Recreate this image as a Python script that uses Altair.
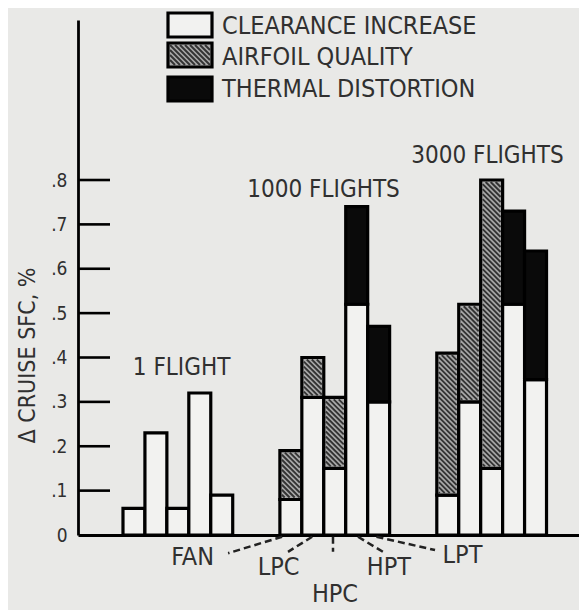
import altair as alt
import pandas as pd

# ---------------- data ----------------
GROUPS = ["1 FLIGHT", "1000 FLIGHTS", "3000 FLIGHTS"]
COMPONENTS = ["FAN", "LPC", "HPC", "HPT", "LPT"]
CAUSES = ["CLEARANCE INCREASE", "AIRFOIL QUALITY", "THERMAL DISTORTION"]

CLEARANCE = [[0.06, 0.23, 0.06, 0.32, 0.09],
             [0.08, 0.31, 0.15, 0.52, 0.30],
             [0.09, 0.30, 0.15, 0.52, 0.35]]
AIRFOIL = [[0.0, 0.0, 0.0, 0.0, 0.0],
           [0.11, 0.09, 0.16, 0.0, 0.0],
           [0.32, 0.22, 0.65, 0.0, 0.0]]
THERMAL = [[0.0, 0.0, 0.0, 0.0, 0.0],
           [0.0, 0.0, 0.0, 0.22, 0.17],
           [0.0, 0.0, 0.0, 0.21, 0.29]]

Y_TICKS = [0.1, 0.2, 0.3, 0.4, 0.5, 0.6, 0.7, 0.8]
Y_LABELS = [0, 0.1, 0.2, 0.3, 0.4, 0.5, 0.6, 0.7, 0.8]

# ---------------- layout / style constants ----------------
GROUP_OFFSET = 2.05
GROUP_STEP = 7.15
X_MAX = 22.83
Y_MAX = 1.1606
W, H = 501, 515
PX_PER_SLOT = W / X_MAX
PX_PER_UNIT = H / Y_MAX

FONT = "Liberation Sans Narrow, DejaVu Sans Condensed, Liberation Sans, sans-serif"
INK = "#303030"
BG = "#e9e9e7"
FILLS = ["#f2f2f0", "#aaaaaa", "#0a0a0a"]
HATCH_PITCH = 5.0


def px2slot(px):
    return px / PX_PER_SLOT


def py2val(py):
    return Y_MAX - py / PX_PER_UNIT


def hatch(xa, xb, yt, yb, inset=2.0):
    """Diagonal '\\' hatch lines inside a pixel rectangle (plot-area pixels)."""
    xa, xb, yt, yb = xa + inset, xb - inset, yt + inset, yb - inset
    segs = []
    c = yt - xb
    while c < yb - xa:
        xs = max(xa, yt - c)
        xe = min(xb, yb - c)
        if xe - xs > 0.3:
            segs.append({"x": px2slot(xs), "y": py2val(xs + c),
                         "x2": px2slot(xe), "y2": py2val(xe + c)})
        c += HATCH_PITCH
    return segs


# ---------------- build tables ----------------
rows = []
for g, grp in enumerate(GROUPS):
    for i, comp in enumerate(COMPONENTS):
        x0 = GROUP_OFFSET + g * GROUP_STEP + i
        base = 0.0
        for k, series in enumerate([CLEARANCE, AIRFOIL, THERMAL]):
            v = series[g][i]
            if v > 0:
                rows.append({"group": grp, "comp": comp, "slot": x0, "slot2": x0 + 1,
                             "cause": CAUSES[k], "y0": base, "y1": base + v})
                base += v
bars_df = pd.DataFrame(rows)

hatch_rows = []
for _, r in bars_df[bars_df["cause"] == CAUSES[1]].iterrows():
    hatch_rows += hatch(r["slot"] * PX_PER_SLOT, r["slot2"] * PX_PER_SLOT,
                        (Y_MAX - r["y1"]) * PX_PER_UNIT, (Y_MAX - r["y0"]) * PX_PER_UNIT)

# legend (drawn by hand so the hatch can be shown), in plot-area pixels
LEG_X0, LEG_X1 = 90, 134
LEG_TOPS = [-7, 23, 57]
LEG_H = 24
LEG_TEXT_X = 144
LEG_TEXT_Y = [6, 37, 69]
legend_df = pd.DataFrame({
    "cause": CAUSES,
    "x": [px2slot(LEG_X0)] * 3, "x2": [px2slot(LEG_X1)] * 3,
    "y": [py2val(t) for t in LEG_TOPS], "y2": [py2val(t + LEG_H) for t in LEG_TOPS],
    "tx": [px2slot(LEG_TEXT_X)] * 3, "ty": [py2val(t) for t in LEG_TEXT_Y],
})
hatch_rows += hatch(LEG_X0, LEG_X1, LEG_TOPS[1], LEG_TOPS[1] + LEG_H)
hatch_df = pd.DataFrame(hatch_rows)

# group annotations (text centre in slot units, baseline in data units)
group_lbl = pd.DataFrame({
    "label": GROUPS,
    "x": [4.72, 11.19, 18.66],
    "y": [0.36, 0.762, 0.838],
})

# component labels below the 1000-flight group, with dashed leaders
comp_lbl = pd.DataFrame({
    "label": COMPONENTS,
    "x": [5.22, 9.14, 11.71, 14.17, 17.52],
    "y": [-0.068, -0.090, -0.152, -0.090, -0.063],
})
leaders = pd.DataFrame({
    "x": [9.30, 10.67, 11.62, 12.76, 13.60],
    "y": [-0.004, -0.004, -0.004, -0.004, -0.004],
    "x2": [6.84, 9.57, 11.62, 13.90, 16.27],
    "y2": [-0.041, -0.038, -0.038, -0.038, -0.034],
})

ticks_df = pd.DataFrame({"v": Y_TICKS})

# ---------------- chart ----------------
xscale = alt.Scale(domain=[0, X_MAX], nice=False, zero=False)
yscale = alt.Scale(domain=[0, Y_MAX], nice=False)
fill_scale = alt.Scale(domain=CAUSES, range=FILLS)

label_expr = "datum.value == 0 ? '0' : replace(format(datum.value, '.1f'), '0.', '.')"

bars = alt.Chart(bars_df).mark_bar(stroke="black", strokeWidth=3.2, opacity=1).encode(
    x=alt.X("slot:Q", scale=xscale,
            axis=alt.Axis(labels=False, ticks=False, title=None, grid=False,
                          domainColor="black", domainWidth=2.8)),
    x2="slot2:Q",
    y=alt.Y("y0:Q", scale=yscale,
            axis=alt.Axis(values=Y_LABELS, labelExpr=label_expr, ticks=False, grid=False,
                          domainColor="black", domainWidth=2.8,
                          labelFont=FONT, labelFontSize=19, labelColor=INK, labelPadding=11,
                          title="Δ CRUISE SFC, %", titleFont=FONT, titleFontSize=23,
                          titleFontWeight="normal", titleColor=INK, titleAngle=270,
                          titleBaseline="middle", titleAlign="center",
                          titleX=-51, titleY=335)),
    y2="y1:Q",
    fill=alt.Fill("cause:N", scale=fill_scale, legend=None),
)

legend_boxes = alt.Chart(legend_df).mark_rect(stroke="black", strokeWidth=3.2, opacity=1).encode(
    x=alt.X("x:Q", scale=xscale), x2="x2:Q",
    y=alt.Y("y:Q", scale=yscale), y2="y2:Q",
    fill=alt.Fill("cause:N", scale=fill_scale, legend=None),
)

legend_text = alt.Chart(legend_df).mark_text(
    font=FONT, fontSize=25, color=INK, align="left", baseline="middle"
).encode(x=alt.X("tx:Q", scale=xscale), y=alt.Y("ty:Q", scale=yscale), text="cause:N")

hatch_lines = alt.Chart(hatch_df).mark_rule(color="#333333", strokeWidth=1.9).encode(
    x=alt.X("x:Q", scale=xscale), y=alt.Y("y:Q", scale=yscale), x2="x2:Q", y2="y2:Q"
)

tick_rules = alt.Chart(ticks_df).mark_rule(color="black", strokeWidth=2.6).encode(
    y=alt.Y("v:Q", scale=yscale), x=alt.value(0), x2=alt.value(32)
)

grp_text = alt.Chart(group_lbl).mark_text(
    font=FONT, fontSize=24, color=INK, align="center", baseline="alphabetic"
).encode(x=alt.X("x:Q", scale=xscale), y=alt.Y("y:Q", scale=yscale), text="label:N")

comp_text = alt.Chart(comp_lbl).mark_text(
    font=FONT, fontSize=25, color=INK, align="center", baseline="alphabetic"
).encode(x=alt.X("x:Q", scale=xscale), y=alt.Y("y:Q", scale=yscale), text="label:N")

lead = alt.Chart(leaders).mark_rule(color="#222222", strokeWidth=2.5, strokeDash=[7, 4]).encode(
    x=alt.X("x:Q", scale=xscale), y=alt.Y("y:Q", scale=yscale), x2="x2:Q", y2="y2:Q"
)

chart = alt.layer(bars, legend_boxes, hatch_lines, tick_rules, lead,
                  legend_text, grp_text, comp_text).properties(
    width=W, height=H,
    autosize="none",
    padding={"left": 70, "top": 12, "right": 0, "bottom": 75},
    background=BG,
).configure_view(stroke=None)

chart.save("out.html", embed_options={"renderer": "svg", "actions": False})
